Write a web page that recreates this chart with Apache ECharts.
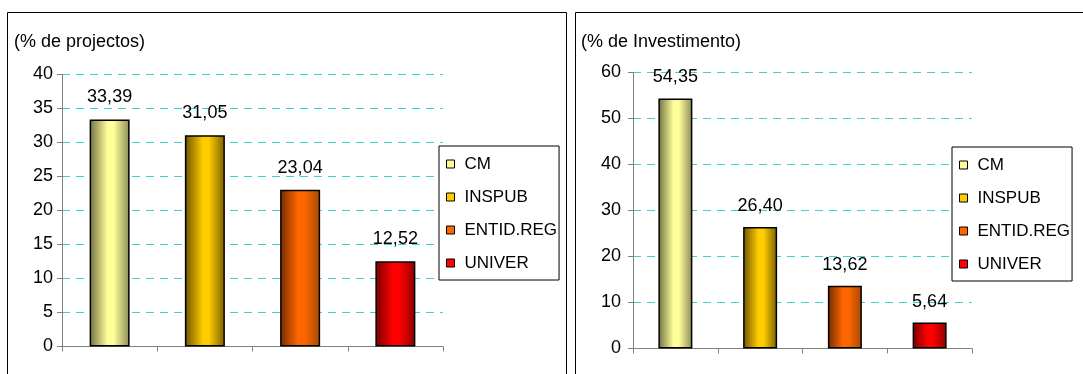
<!DOCTYPE html>
<html>
<head>
<meta charset="utf-8">
<script src="https://cdn.jsdelivr.net/npm/echarts@6/dist/echarts.min.js"></script>
<style>
  html, body { margin: 0; padding: 0; background: #fff; }
  #chart { width: 1083px; height: 374px; }
</style>
</head>
<body>
<div id="chart"></div>
<script>
// Categories of promoting entity
const categories = ['CM', 'INSPUB', 'ENTID.REG', 'UNIVER'];
// Share of projects (%)
const projectShare = [33.39, 31.05, 23.04, 12.52];
// Share of investment (%)
const investmentShare = [54.35, 26.40, 13.62, 5.64];
// Axis ranges
const projectAxis = { min: 0, max: 40, interval: 5 };
const investmentAxis = { min: 0, max: 60, interval: 10 };

// Cylinder-like shading per category: [edge, highlight, right edge, swatch]
const palette = [
  ['#6f6f42', '#ffff99', '#8a8a58', '#ffff99'],
  ['#6a5200', '#ffcc00', '#7a6000', '#ffcc00'],
  ['#762c00', '#ff6600', '#a84800', '#ff6600'],
  ['#780000', '#ff0000', '#8a0000', '#ff0000']
];

const FONT = "'Liberation Sans', Arial, sans-serif";

function shade(i) {
  const p = palette[i];
  return new echarts.graphic.LinearGradient(0, 0, 1, 0, [
    { offset: 0, color: p[0] },
    { offset: 0.45, color: p[1] },
    { offset: 0.6, color: p[1] },
    { offset: 1, color: p[2] }
  ]);
}

function fmt(v) {
  return v.toFixed(2).replace('.', ',');
}

function buildSeries(values, axisIndex, barWidth, labelDist) {
  return categories.map((name, i) => ({
    name: name,
    type: 'bar',
    xAxisIndex: axisIndex,
    yAxisIndex: axisIndex,
    barWidth: barWidth,
    barGap: '-100%',
    data: categories.map((_, j) => (j === i ? values[i] : null)),
    itemStyle: { color: shade(i), borderColor: '#000', borderWidth: 1.5 },
    label: {
      show: true,
      position: 'top',
      distance: labelDist,
      color: '#000',
      fontFamily: FONT,
      fontSize: 18,
      formatter: p => fmt(p.value)
    },
    emphasis: { disabled: true }
  }));
}

function legendFor(left, top) {
  return {
    orient: 'vertical',
    left: left,
    top: top,
    backgroundColor: '#fff',
    borderColor: '#000',
    borderWidth: 1,
    borderRadius: 0,
    padding: [9, 2, 8, 7],
    itemWidth: 8,
    itemHeight: 8,
    itemGap: 15,
    icon: 'rect',
    textStyle: { fontFamily: FONT, fontSize: 17, color: '#000', lineHeight: 18, padding: [0, 0, 0, 5] },
    data: categories.map((name, i) => ({
      name: name,
      itemStyle: { color: palette[i][3], borderColor: '#000', borderWidth: 1 }
    }))
  };
}

function xAxisFor(gridIndex) {
  return {
    type: 'category',
    gridIndex: gridIndex,
    data: categories,
    boundaryGap: true,
    axisLine: { lineStyle: { color: '#808080', width: 1 } },
    axisTick: { show: true, interval: 0, length: 5, lineStyle: { color: '#808080' } },
    axisLabel: { show: false },
    splitLine: { show: false }
  };
}

function yAxisFor(gridIndex, range, margin) {
  return {
    type: 'value',
    gridIndex: gridIndex,
    min: range.min,
    max: range.max,
    interval: range.interval,
    axisLine: { show: true, lineStyle: { color: '#808080', width: 1 } },
    axisTick: { show: true, length: 5, lineStyle: { color: '#808080' } },
    axisLabel: { color: '#000', fontFamily: FONT, fontSize: 18, margin: margin },
    splitLine: { show: true, lineStyle: { color: '#3cd2d2', width: 1, type: [8, 6] } }
  };
}

const titleStyle = { fontFamily: FONT, fontSize: 18, fontWeight: 'normal', color: '#000' };

const chart = echarts.init(document.getElementById('chart'), null, { renderer: 'canvas' });

chart.setOption({
  backgroundColor: '#fff',
  animation: false,
  title: [
    { text: '(% de projectos)', left: 14, top: 33, padding: 0, textStyle: titleStyle },
    { text: '(% de Investimento)', left: 581, top: 33, padding: 0, textStyle: titleStyle }
  ],
  grid: [
    { left: 62, top: 74.5, width: 381, height: 272 },
    { left: 633, top: 72.5, width: 339, height: 276 }
  ],
  xAxis: [xAxisFor(0), xAxisFor(1)],
  yAxis: [yAxisFor(0, projectAxis, 9), yAxisFor(1, investmentAxis, 12)],
  legend: [legendFor(439, 146), legendFor(952, 147)],
  series: [
    ...buildSeries(projectShare, 0, 40, 13),
    ...buildSeries(investmentShare, 1, 34, 12)
  ],
  graphic: [
    { type: 'rect', z: -1, silent: true,
      shape: { x: 7.5, y: 12.5, width: 559, height: 400 },
      style: { fill: 'none', stroke: '#000', lineWidth: 1 } },
    { type: 'rect', z: -1, silent: true,
      shape: { x: 575.5, y: 12.5, width: 600, height: 400 },
      style: { fill: 'none', stroke: '#000', lineWidth: 1 } }
  ]
});
</script>
</body>
</html>
